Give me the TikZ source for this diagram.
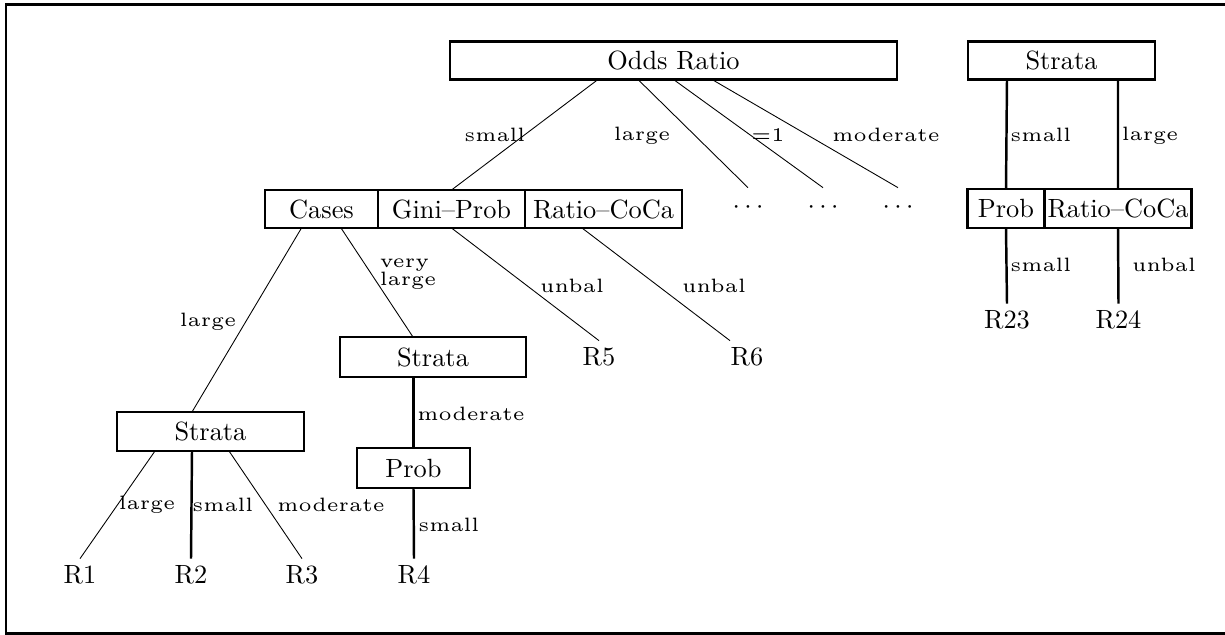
\documentclass[tikz,border=0pt]{standalone}
\usepackage{graphicx}
\usetikzlibrary{positioning}
\newcommand{\bx}[1]{\scalebox{1.5}{\fontsize{10}{12}\selectfont #1}}
\newcommand{\lb}[1]{\scalebox{2.2}{\fontsize{5}{4.4}\selectfont #1}}
\begin{document}
\begin{tikzpicture}[
  box/.style={draw,line width=1.3pt,inner sep=0pt,outer sep=0pt,minimum height=7.6mm},
  leaf/.style={inner sep=0pt,minimum height=6.4mm},
  dotn/.style={inner sep=0pt,minimum height=8mm},
  lab/.style={inner sep=0pt},
  edge/.style={line width=0.5pt},
  heavy/.style={line width=1.4pt}]
\useasboundingbox (0,0) rectangle (24.5,-12.7);
% ---- frame (open on the right) ----
\draw[line width=1.5pt] (24.5,-0.09) -- (0.12,-0.09) -- (0.12,-12.67) -- (24.5,-12.67);
% ---- main tree ----
\node[box,minimum width=8.94cm] (odds) at (13.47,-1.21) {\bx{Odds Ratio}};
\node[box,minimum width=2.26cm] (cases) at (6.43,-4.18) {\bx{Cases}};
\node[box,minimum width=2.94cm,right=0pt of cases] (gini) {\bx{Gini--Prob}};
\node[box,minimum width=3.14cm,right=0pt of gini] (ratio) {\bx{Ratio--CoCa}};
\node[dotn] (dA) at (14.96,-4.16) {\bx{$\cdots$}};
\node[dotn] (dB) at (16.46,-4.16) {\bx{$\cdots$}};
\node[dotn] (dC) at (17.96,-4.16) {\bx{$\cdots$}};
\draw[edge] ([xshift=-15.1mm]odds.south) -- (gini.north);
\draw[edge] ([xshift=-7.1mm]odds.south) -- (dA.north);
\draw[edge] (odds.south) -- (dB.north);
\draw[edge] ([xshift=7.7mm]odds.south) -- (dC.north);
\node[lab] (lsmall) at (9.90,-2.70) {\lb{small}};
\node[lab] (llarge) at (12.84,-2.72) {\lb{large}};
\node[lab] (lone) at (15.36,-2.70) {\lb{=1}};
\node[lab] (lmod) at (17.72,-2.70) {\lb{moderate}};
% ---- below Cases ----
\node[box,minimum width=3.74cm,minimum height=7.8mm] (strL) at (4.21,-8.63) {\bx{Strata}};
\node[box,minimum width=3.72cm,minimum height=8mm] (strM) at (8.66,-7.14) {\bx{Strata}};
\node[box,minimum width=2.26cm,minimum height=8mm] (probM) at (8.27,-9.36) {\bx{Prob}};
\draw[edge] ([xshift=-4mm]cases.south) -- ([xshift=-3.7mm]strL.north);
\draw[edge] ([xshift=3.9mm]cases.south) -- ([xshift=-4mm]strM.north);
\node[lab] (lcl) at (4.16,-6.44) {\lb{large}};
\node[lab] (lvl) at (8.16,-5.46) {\lb{\begin{tabular}{@{}l@{}}very\\large\end{tabular}}};
\node[leaf] (r1) at (1.60,-11.50) {\bx{R1}};
\node[leaf] (r2) at (3.82,-11.50) {\bx{R2}};
\node[leaf] (r3) at (6.04,-11.50) {\bx{R3}};
\node[leaf] (r4) at (8.28,-11.50) {\bx{R4}};
\draw[edge] ([xshift=-11.1mm]strL.south) -- (r1.north);
\draw[heavy] ([xshift=-3.7mm]strL.south) -- (r2.north);
\draw[edge] ([xshift=3.7mm]strL.south) -- (r3.north);
\node[lab] (ll1) at (2.94,-10.10) {\lb{large}};
\node[lab] (ls2) at (4.46,-10.10) {\lb{small}};
\node[lab] (lm3) at (6.62,-10.10) {\lb{moderate}};
\draw[heavy] ([xshift=-3.9mm]strM.south) -- (probM.north);
\draw[heavy] (probM.south) -- (r4.north);
\node[lab] (lmM) at (9.42,-8.28) {\lb{moderate}};
\node[lab] (lsM) at (8.98,-10.50) {\lb{small}};
% ---- below Gini-Prob and Ratio-CoCa ----
\node[leaf] (r5) at (11.98,-7.14) {\bx{R5}};
\node[leaf] (r6) at (14.94,-7.14) {\bx{R6}};
\draw[edge] (gini.south) -- (r5.north);
\draw[edge] ([xshift=-4.3mm]ratio.south) -- ([xshift=-3.4mm]r6.north);
\node[lab] (lu5) at (11.44,-5.72) {\lb{unbal}};
\node[lab] (lu6) at (14.28,-5.72) {\lb{unbal}};
% ---- right tree ----
\node[box,minimum width=3.74cm] (strR) at (21.23,-1.21) {\bx{Strata}};
\node[box,minimum width=1.54cm,minimum height=7.8mm] (probR) at (20.12,-4.17) {\bx{Prob}};
\node[box,minimum width=2.94cm,minimum height=7.8mm,right=0pt of probR] (ratioR) {\bx{Ratio--CoCa}};
\draw[heavy] ([xshift=-10.9mm]strR.south) -- (probR.north);
\draw[heavy] ([xshift=11.3mm]strR.south) -- (ratioR.north);
\node[lab] (lsR) at (20.82,-2.70) {\lb{small}};
\node[lab] (llR) at (23.00,-2.72) {\lb{large}};
\node[leaf] (r23) at (20.14,-6.40) {\bx{R23}};
\node[leaf] (r24) at (22.37,-6.40) {\bx{R24}};
\draw[heavy] (probR.south) -- (r23.north);
\draw[heavy] (ratioR.south) -- (r24.north);
\node[lab] (lsR2) at (20.82,-5.30) {\lb{small}};
\node[lab] (luR) at (23.28,-5.30) {\lb{unbal}};
\end{tikzpicture}
\end{document}
